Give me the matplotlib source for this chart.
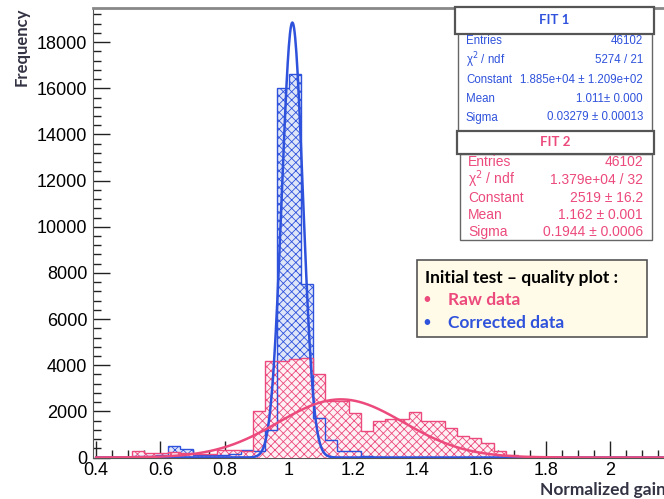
import numpy as np
import matplotlib
matplotlib.use("Agg")
import matplotlib.pyplot as plt
from matplotlib.patches import Rectangle
from matplotlib.ticker import MultipleLocator, FixedLocator, FixedFormatter

plt.rcParams["font.family"] = ["Liberation Sans", "DejaVu Sans"]
plt.rcParams["hatch.linewidth"] = 0.6

# 48 bins from 0.4 to 2.2 (width 0.0375)
bin_edges = np.linspace(0.4, 2.2, 49)

raw_counts = [0, 0, 0, 270, 200, 200, 250, 200, 150, 150, 330, 330,
              280, 2000, 4170, 4200, 4250, 4300, 3640, 2470, 2470, 1950, 1140, 1570,
              1650, 1650, 1990, 1570, 1570, 1280, 920, 850, 640, 270, 130, 20,
              0, 0, 0, 0, 0, 0, 0, 0, 0, 0, 0, 0]
corr_counts = [0, 0, 0, 60, 60, 100, 490, 380, 120, 100, 120, 150,
               340, 300, 1200, 16000, 16600, 7500, 1700, 780, 300, 300, 50, 30,
               0, 0, 0, 0, 0, 0, 0, 0, 0, 0, 0, 0,
               0, 0, 0, 0, 0, 0, 0, 0, 0, 0, 0, 0]

# fit parameters (from the stat boxes)
fit1_const, fit1_mean, fit1_sigma = 1.885e4, 1.011, 0.03279
fit2_const, fit2_mean, fit2_sigma = 2519, 1.162, 0.1944

fit1_rows = [("Entries", "46102"), ("\u03c7$^2$ / ndf", "5274 / 21"),
             ("Constant", "1.885e+04 \u00b1 1.209e+02"), ("Mean", "1.011\u00b1 0.000"),
             ("Sigma", "0.03279 \u00b1 0.00013")]
fit2_rows = [("Entries", "46102"), ("\u03c7$^2$ / ndf", "1.379e+04 / 32"),
             ("Constant", "2519 \u00b1 16.2"), ("Mean", "1.162 \u00b1 0.001"),
             ("Sigma", "0.1944 \u00b1 0.0006")]

xtick_vals = [0.4, 0.6, 0.8, 1.0, 1.2, 1.4, 1.6, 1.8, 2.0]
xtick_text = ["0.4", "0.6", "0.8", "1", "1.2", "1.4", "1.6", "1.8", "2"]

RED = "#ec4a7c"
BLUE = "#2f52dc"

W, H = 664, 499
fig = plt.figure(figsize=(W / 100, H / 100), dpi=100)


def fx(x):
    return x / W


def fy(y):
    return 1 - y / H


ax = fig.add_axes([fx(93), fy(457.5), fx(664 - 93), (457.5 - 7.5) / H])
widths = np.diff(bin_edges)

ax.bar(bin_edges[:-1], corr_counts, width=widths, align="edge",
       facecolor="#dfe6f8", edgecolor=BLUE, hatch="xxxx", linewidth=0, zorder=2)
ax.bar(bin_edges[:-1], raw_counts, width=widths, align="edge",
       facecolor="#fdf1f5", edgecolor=RED, hatch="xxxx", linewidth=0, zorder=3)
ax.stairs(corr_counts, bin_edges, color=BLUE, linewidth=1.0, zorder=4)
ax.stairs(raw_counts, bin_edges, color=RED, linewidth=1.0, zorder=4)

xs = np.linspace(0.4, 2.2, 1000)
ax.plot(xs, fit1_const * np.exp(-0.5 * ((xs - fit1_mean) / fit1_sigma) ** 2),
        color=BLUE, linewidth=1.8, zorder=5)
ax.plot(xs, fit2_const * np.exp(-0.5 * ((xs - fit2_mean) / fit2_sigma) ** 2),
        color=RED, linewidth=1.8, zorder=5)

ax.set_xlim(0.39, 0.4 + (664 - 96.3) / 321)
ax.set_ylim(0, 19500)
ax.xaxis.set_major_locator(FixedLocator(xtick_vals))
ax.xaxis.set_major_formatter(FixedFormatter(xtick_text))
ax.xaxis.set_minor_locator(MultipleLocator(0.05))
ax.yaxis.set_major_locator(MultipleLocator(2000))
ax.yaxis.set_minor_locator(MultipleLocator(400))
ax.tick_params(axis="both", which="both", direction="in", labelsize=13,
               color="#222222", width=1)
ax.tick_params(axis="both", which="major", length=12)
ax.tick_params(axis="both", which="minor", length=6)
ax.tick_params(axis="x", pad=3)
ax.tick_params(axis="y", pad=4)
ax.tick_params(top=False, right=False)
ax.spines["right"].set_visible(False)
ax.spines["top"].set_color("#888888")
ax.spines["top"].set_linewidth(2)
ax.spines["left"].set_color("#555555")
ax.spines["bottom"].set_color("#555555")

fig.text(fx(22), fy(8), "Frequency", rotation=90, ha="center", va="top",
         fontsize=12, fontweight="bold", family="Lato", color="#333344")
fig.text(fx(540), fy(490), "Normalized gain", ha="left", va="center",
         fontsize=12.5, fontweight="bold", family="Lato", color="#333344")


def rect(x0, y0, x1, y1, fc="white", ec="#555555", lw=1.0):
    fig.patches.append(Rectangle((fx(x0), fy(y1)), fx(x1) - fx(x0), (y1 - y0) / H,
                                 transform=fig.transFigure, facecolor=fc,
                                 edgecolor=ec, linewidth=lw, zorder=10))


def stat_box(top, head_bottom, body_bottom, left, right, title, rows, row_ys,
             color, size, title_size):
    rect(left + 3, head_bottom, right - 2, body_bottom, ec="#666666", lw=1.0)
    rect(left, top, right, head_bottom, ec="#555555", lw=1.6)
    fig.text(fx((left + right) / 2), fy((top + head_bottom) / 2), title,
             ha="center", va="center", fontsize=title_size, fontweight="bold",
             family="Lato", color=color, zorder=11)
    for (lab, val), y in zip(rows, row_ys):
        fig.text(fx(left + 11), fy(y), lab, ha="left", va="center",
                 fontsize=size, color=color, zorder=11)
        fig.text(fx(right - 11), fy(y), val, ha="right", va="center",
                 fontsize=size, color=color, zorder=11)


stat_box(7.5, 33.5, 131, 455, 654, "FIT 1", fit1_rows,
         [40.7, 60, 80, 99, 117.5], BLUE, 8.3, 9.5)
stat_box(131, 153.5, 240, 457, 654, "FIT 2", fit2_rows,
         [161.7, 179.5, 198, 215, 232], RED, 10, 9.5)

# legend note box
rect(417, 260, 647, 337, fc="#fffbe8", ec="#555555", lw=1.2)
fig.text(fx(425), fy(278), "Initial test \u2013 quality plot :", ha="left",
         va="center", fontsize=12.5, fontweight="bold", family="Lato",
         color="black", zorder=11)
for label, y, c in [("Raw data", 300, RED), ("Corrected data", 323, BLUE)]:
    fig.text(fx(427), fy(y), "\u2022", ha="center", va="center", fontsize=11,
             family="Lato", color=c, zorder=11)
    fig.text(fx(448), fy(y), label, ha="left", va="center", fontsize=12.5,
             fontweight="bold", family="Lato", color=c, zorder=11)

fig.savefig("out.png", dpi=100)
